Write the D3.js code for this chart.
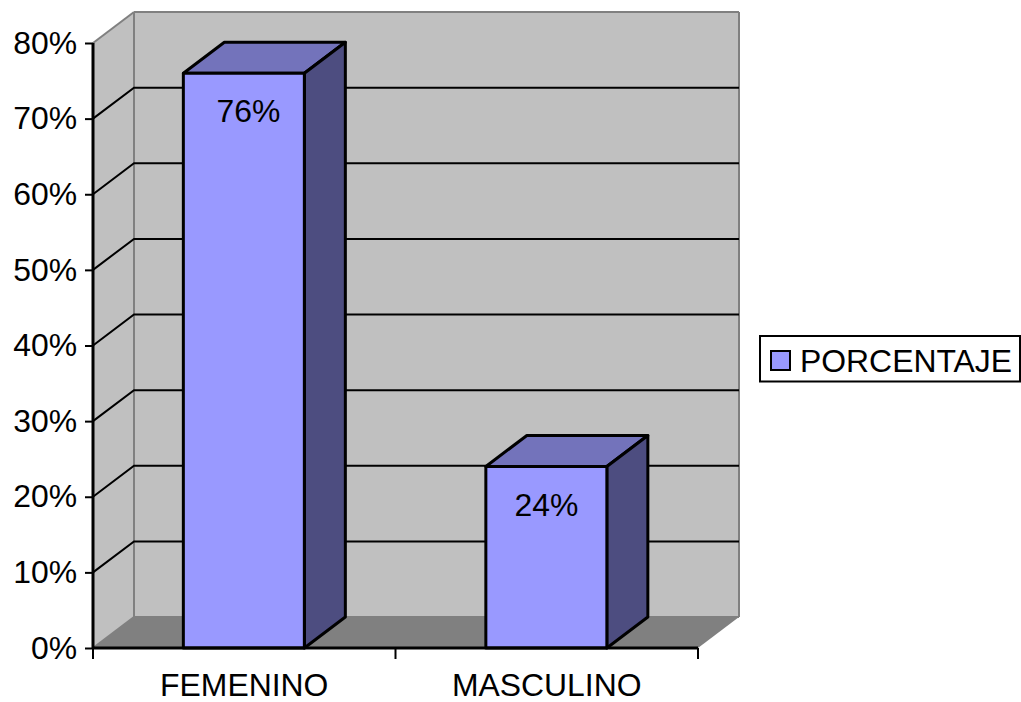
<!DOCTYPE html>
<html><head><meta charset="utf-8">
<script src="https://cdn.jsdelivr.net/npm/d3@7"></script>
<style>html,body{margin:0;padding:0;background:#fff}svg{display:block}text{font-family:"Liberation Sans",Arial,sans-serif;fill:#000}</style>
</head><body><svg id="c" width="1021" height="702"></svg>
<script>
const categories = ["FEMENINO", "MASCULINO"];
const values = [76, 24];
const valueLabels = ["76%", "24%"];
const yTicks = [0, 10, 20, 30, 40, 50, 60, 70, 80];
const seriesName = "PORCENTAJE";

const svg = d3.select("#c");
const y = d3.scaleLinear().domain([0, 80]).range([648, 43]);
const x = d3.scaleBand().domain(categories).range([93, 698]).paddingInner(0.6).paddingOuter(0.3);
const dx = 41, dy = -31, fs = 31.9;
const x0 = 93, x1 = 698;
const poly = pts => pts.map(p => p.join(",")).join(" ");

// walls and floor
svg.append("polygon").attr("points", poly([[x0, y(0)], [x0 + dx, y(0) + dy], [x0 + dx, y(80) + dy], [x0, y(80)]])).attr("fill", "#c0c0c0");
svg.append("rect").attr("x", x0 + dx).attr("y", y(80) + dy).attr("width", x1 - x0).attr("height", y(0) - y(80)).attr("fill", "#c0c0c0");
svg.append("polygon").attr("points", poly([[x0, y(0)], [x0 + dx, y(0) + dy], [x1 + dx, y(0) + dy], [x1, y(0)]])).attr("fill", "#808080");

// wall edges
const edge = (a, b, c, d) => svg.append("line").attr("x1", a).attr("y1", b).attr("x2", c).attr("y2", d).attr("stroke", "#808080").attr("stroke-width", 2);
edge(x0, y(80), x0 + dx, y(80) + dy);
edge(x0 + dx, y(80) + dy, x1 + dx, y(80) + dy);
edge(x0 + dx, y(80) + dy, x0 + dx, y(0) + dy);
edge(x1 + dx, y(80) + dy, x1 + dx, y(0) + dy);
edge(x0, y(0), x0 + dx, y(0) + dy);
edge(x0 + dx, y(0) + dy, x1 + dx, y(0) + dy);

// gridlines
const grid = yTicks.filter(t => t > 0 && t < 80);
svg.append("g").selectAll("path").data(grid).join("path")
  .attr("fill", "none").attr("stroke", "#000").attr("stroke-width", 2)
  .attr("d", t => `M${x0},${y(t)}L${x0 + dx},${y(t) + dy}L${x1 + dx},${y(t) + dy}`);

// bars
const bars = svg.append("g").attr("transform", "translate(-0.4,0)").selectAll("g").data(categories).join("g");
const st = s => s.attr("stroke", "#000").attr("stroke-width", 3).attr("stroke-linejoin", "round");
bars.append("polygon").call(st).attr("fill", "#7373bb").attr("points", (c, i) => {
  const l = x(c), r = l + x.bandwidth(), t = y(values[i]);
  return poly([[l, t], [l + dx, t + dy], [r + dx, t + dy], [r, t]]);
});
bars.append("polygon").call(st).attr("fill", "#4d4d80").attr("points", (c, i) => {
  const r = x(c) + x.bandwidth(), t = y(values[i]);
  return poly([[r, t], [r + dx, t + dy], [r + dx, y(0) + dy], [r, y(0)]]);
});
bars.append("rect").call(st).attr("fill", "#9999ff")
  .attr("x", c => x(c)).attr("width", x.bandwidth())
  .attr("y", (c, i) => y(values[i])).attr("height", (c, i) => y(0) - y(values[i]));
bars.append("text").attr("text-anchor", "middle").attr("font-size", fs)
  .attr("x", (c, i) => x(c) + x.bandwidth() / 2 + (i === 0 ? 4.5 : 0))
  .attr("y", (c, i) => y(values[i]) + 49)
  .text((c, i) => valueLabels[i]);

// axes
const yAxis = d3.axisLeft(y).tickValues(yTicks).tickSize(8).tickPadding(8).tickFormat(d => d + "%");
const gy = svg.append("g").attr("transform", `translate(${x0},0)`).call(yAxis);
const xEdges = d3.range(categories.length + 1).map(i => x0 + i * (x1 - x0) / categories.length);
const xScale = d3.scalePoint().domain(categories).range([x0 + (x1 - x0) / 4 - 0.5, x1 - (x1 - x0) / 4 - 0.5]);
const gx = svg.append("g").attr("transform", `translate(0,${y(0)})`).call(d3.axisBottom(xScale).tickSize(0).tickPadding(25));
gx.selectAll(".tick line").remove();
gx.selectAll("t").data(xEdges).join("line").attr("x1", d => d).attr("x2", d => d).attr("y1", 0).attr("y2", 11).attr("stroke", "#000").attr("stroke-width", 2);
[gy, gx].forEach(g => {
  g.selectAll(".domain").attr("stroke", "#000").attr("stroke-width", 3).attr("d", g === gy ? `M0,${y(0)}V${y(80)}` : `M${x0},0H${x1}`);
  g.selectAll(".tick line").attr("stroke", "#000").attr("stroke-width", 2);
  g.selectAll("text").attr("font-size", fs).attr("font-family", '"Liberation Sans",Arial,sans-serif').attr("fill", "#000");
});
gx.selectAll(".tick text").attr("dy", "0.71em");

// legend
const lg = svg.append("g");
lg.append("rect").attr("x", 760).attr("y", 336).attr("width", 260).attr("height", 45.5).attr("fill", "#fff").attr("stroke", "#000").attr("stroke-width", 2);
lg.append("rect").attr("x", 771).attr("y", 351).attr("width", 19).attr("height", 19).attr("fill", "#9999ff").attr("stroke", "#000").attr("stroke-width", 2);
lg.append("text").attr("x", 800).attr("y", 372).attr("font-size", fs).text(seriesName);
</script></body></html>
